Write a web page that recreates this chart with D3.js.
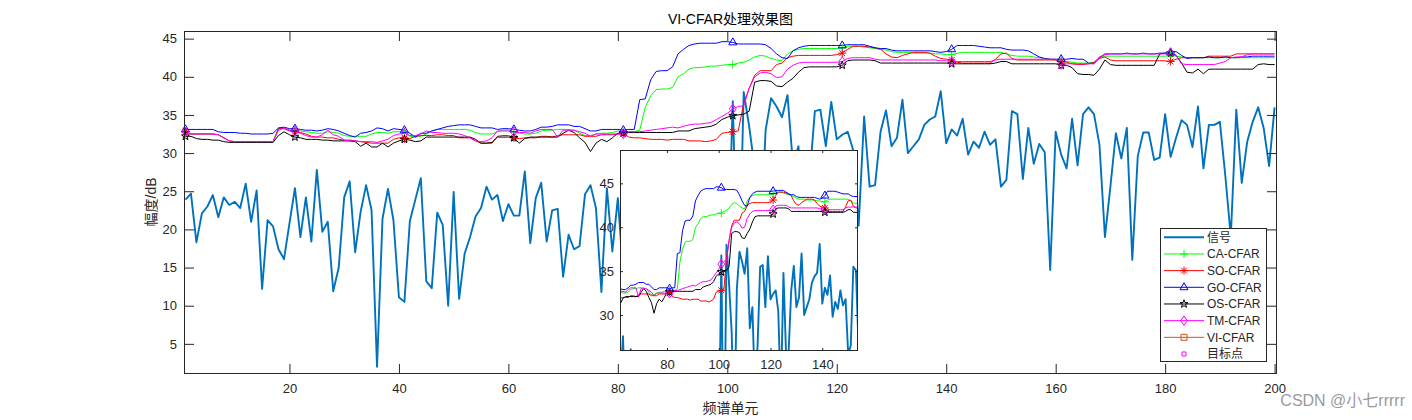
<!DOCTYPE html>
<html><head><meta charset="utf-8">
<script src="https://cdn.jsdelivr.net/npm/d3@7"></script>
<style>
body{margin:0;background:#fff;}
text{font-family:"Liberation Sans",Arial,"Noto Sans CJK SC",sans-serif;}
</style>
</head><body>
<svg id="c" width="1412" height="420"></svg>
<script>
// ---------------- data ----------------
const signal = [
23.9,24.7,18.3,22.1,23.0,24.5,21.6,24.2,23.2,23.6,
22.8,26.0,21.0,25.1,12.2,21.2,20.4,17.4,16.1,20.8,
25.4,19.0,24.2,18.4,27.8,19.7,21.0,11.9,15.0,24.2,
26.3,17.0,22.3,25.8,22.5,2.0,21.4,25.3,21.2,11.1,
10.5,21.1,23.9,26.7,13.2,12.3,22.2,20.6,10.0,24.9,
10.9,16.8,19.0,21.7,22.8,25.6,23.9,24.5,21.1,23.3,
21.8,21.8,27.6,18.2,24.1,26.1,18.4,22.5,22.7,13.8,
19.3,17.4,17.8,24.6,25.8,22.8,11.8,25.4,17.1,24.1,
14.0,22.0,18.0,11.0,20.0,24.0,16.0,21.0,9.0,19.0,
23.0,15.0,20.0,25.0,13.0,18.0,22.0,17.0,21.0,13.0,
36.8,9.0,38.0,33.5,28.0,17.0,33.0,37.2,36.1,34.7,
37.6,28.5,30.9,21.0,26.5,35.5,35.7,30.9,36.7,31.8,
32.4,32.8,30.4,20.5,34.8,25.6,25.8,32.8,35.6,30.9,
32.0,37.0,30.0,30.9,31.8,33.7,34.4,34.8,38.1,31.3,
33.1,32.3,34.5,29.8,31.5,30.7,32.8,31.1,31.8,25.6,
26.5,35.5,35.1,26.6,33.3,28.6,31.2,30.1,14.7,32.8,
29.8,28.0,34.5,28.4,35.1,36.0,35.1,31.1,19.0,25.6,
32.6,29.3,33.3,16.0,29.6,32.7,32.7,29.1,29.4,35.1,
29.5,32.0,34.3,33.7,30.8,36.1,28.0,33.7,33.7,34.1,
27.0,19.0,35.7,26.1,31.5,34.1,36.0,33.3,28.3,36.0];

const caCFAR = [
32.8,32.5,32.5,32.5,32.5,32.5,32.4,32.0,31.6,31.5,
31.5,31.5,31.5,31.5,31.5,31.5,31.5,33.3,33.3,33.0,
33.0,32.9,32.8,32.7,32.6,32.6,32.8,32.7,32.6,32.3,
32.2,32.2,32.2,32.2,32.5,32.7,32.7,32.6,32.8,32.8,
32.8,32.2,32.1,32.2,32.5,32.9,33.1,33.1,33.1,33.1,
33.1,33.1,33.0,32.7,32.5,32.5,32.5,32.8,33.0,33.0,
32.8,32.6,32.5,32.5,32.6,32.9,33.0,33.0,33.1,33.1,
33.1,33.0,32.6,32.3,32.3,32.5,32.6,32.6,32.7,32.9,
32.8,32.8,32.8,33.0,36.0,37.5,38.3,38.4,38.4,38.6,
40.0,40.4,41.0,41.2,41.2,41.3,41.4,41.4,41.5,41.6,
41.6,41.8,41.9,42.2,42.6,42.8,42.7,42.4,42.2,42.1,
43.0,43.4,43.6,43.7,43.7,43.7,43.7,43.7,43.7,43.7,
43.8,44.0,44.0,44.0,43.9,43.8,43.7,43.6,43.5,43.3,
43.2,43.2,43.2,43.1,43.1,43.1,43.1,43.0,43.0,42.9,
42.9,43.1,43.2,43.2,43.2,43.2,43.2,43.2,43.2,43.2,
43.0,42.8,42.7,42.7,42.7,42.6,42.5,42.4,42.3,42.2,
42.1,42.0,41.9,41.8,41.8,41.8,41.9,42.6,42.7,42.7,
42.7,42.7,42.7,42.7,42.7,42.7,42.7,42.7,42.7,42.7,
42.8,42.7,42.6,42.5,42.5,42.5,42.5,42.5,42.5,42.5,
42.5,42.5,42.5,42.5,42.5,42.5,42.5,42.5,42.5,42.5];

const soCFAR = [
32.8,32.5,32.5,32.5,32.5,32.5,32.4,32.0,31.6,31.5,
31.5,31.5,31.5,31.5,31.5,31.5,31.5,33.2,33.2,32.9,
32.8,32.7,32.5,32.2,32.1,32.1,32.0,32.0,31.8,31.7,
31.7,31.6,31.5,31.4,31.3,31.3,31.3,31.3,31.8,32.0,
31.9,31.9,32.2,32.3,32.3,32.3,32.4,32.4,32.3,32.3,
32.0,32.0,32.0,31.6,31.3,31.3,31.3,32.2,32.3,32.3,
32.0,31.9,32.0,32.0,32.0,32.2,32.2,32.1,32.3,32.4,
32.4,32.4,32.4,32.2,32.2,32.2,32.4,32.4,32.4,32.5,
32.6,32.1,32.0,32.0,31.9,31.8,31.8,31.8,31.7,31.8,
31.8,31.8,31.6,31.6,31.6,31.5,31.6,31.8,32.6,32.7,
32.8,32.9,36.5,38.5,40.2,40.8,40.8,40.8,41.6,41.8,
42.5,42.7,42.8,42.8,42.8,42.8,42.8,42.8,42.8,42.9,
43.1,43.6,44.0,44.0,44.0,43.9,43.8,43.6,43.0,42.6,
42.5,42.8,43.0,43.2,43.2,43.2,43.1,42.7,42.4,42.3,
42.2,41.9,41.8,41.8,41.8,41.8,41.8,41.8,42.3,43.0,
43.1,42.4,42.2,42.2,42.2,42.2,42.2,42.2,42.2,42.2,
42.0,41.9,41.7,41.6,41.6,41.7,41.9,42.4,42.6,42.2,
42.1,42.1,42.1,42.1,42.1,42.1,42.1,42.1,42.1,42.1,
42.0,42.3,42.5,42.5,42.5,42.5,42.5,42.7,42.7,42.7,
42.7,42.7,43.0,43.0,43.0,43.0,43.0,43.0,43.0,43.0];

const goCFAR = [
33.1,33.1,33.1,33.1,33.1,33.1,32.8,32.7,32.7,32.7,
32.6,32.6,32.5,32.5,32.5,32.5,32.6,33.3,33.4,33.2,
33.2,33.1,33.0,33.0,32.9,33.0,33.2,33.1,32.9,32.6,
32.3,32.1,32.6,32.7,32.9,33.3,33.2,32.9,33.2,33.1,
33.0,32.6,32.1,32.6,32.6,32.9,33.1,33.3,33.5,33.6,
33.7,33.7,33.7,33.5,33.3,33.3,33.3,33.1,33.2,33.2,
33.1,33.0,32.9,32.9,33.1,33.4,33.4,33.5,33.7,33.7,
33.7,33.5,33.5,33.2,32.9,32.9,33.1,33.1,33.1,33.1,
33.0,33.1,33.1,37.0,37.1,39.6,40.7,40.8,40.8,41.3,
43.0,43.6,44.1,44.3,44.4,44.4,44.4,44.4,44.6,44.6,
44.5,44.3,44.3,44.3,44.3,44.3,44.2,43.7,43.0,42.5,
42.4,43.4,43.8,44.0,44.1,44.1,44.1,44.1,44.1,44.1,
44.1,44.2,44.2,44.2,44.2,44.0,43.8,43.7,43.7,43.5,
43.4,43.4,43.4,43.4,43.4,43.4,43.4,43.3,43.2,43.3,
43.6,44.1,44.1,44.1,44.1,44.0,43.9,43.8,43.8,43.8,
43.6,43.5,43.5,43.5,43.4,43.0,42.6,42.4,42.3,42.3,
42.3,42.3,42.4,42.3,42.3,41.8,41.7,42.5,43.0,43.0,
43.0,43.0,43.1,43.0,43.0,43.1,43.0,43.0,43.1,43.1,
43.2,43.3,42.8,42.4,42.5,42.5,42.5,42.6,42.5,42.5,
42.6,42.5,42.5,42.6,42.6,42.7,42.7,42.7,42.7,42.7];

const osCFAR = [
32.2,32.2,31.9,31.8,31.8,31.7,31.7,31.5,31.4,31.4,
31.4,31.4,31.4,31.4,31.4,31.4,31.4,32.3,32.8,32.4,
32.1,32.0,31.8,31.8,31.8,31.7,31.7,31.6,31.6,31.6,
31.6,31.5,30.9,31.3,30.8,30.8,31.3,30.8,31.3,31.6,
31.8,31.7,31.5,31.6,32.1,32.1,32.1,32.1,32.1,32.1,
32.1,32.1,32.1,31.8,31.3,31.3,31.4,32.1,32.1,32.1,
32.0,31.3,31.9,32.1,32.1,32.1,32.1,32.1,32.1,32.6,
33.0,32.7,32.0,31.4,30.2,31.3,31.8,31.5,32.0,32.6,
32.6,32.7,32.7,32.7,32.7,32.7,32.7,32.7,32.7,32.7,
32.9,32.9,32.9,33.2,33.3,33.4,33.5,33.8,34.4,34.7,
34.9,35.0,35.1,35.5,39.3,39.5,39.5,39.4,38.8,38.7,
39.3,39.8,40.6,41.2,41.3,41.3,41.3,41.3,41.3,41.3,
41.5,42.1,42.2,42.2,42.2,42.2,42.1,41.8,41.8,41.8,
41.8,41.8,41.8,41.8,41.8,41.8,41.8,41.8,41.8,41.8,
41.7,41.7,41.7,41.7,41.7,41.7,41.7,41.7,41.8,42.0,
42.0,41.7,41.7,41.7,41.7,41.7,41.7,41.7,41.7,41.7,
41.5,41.5,41.2,40.4,40.3,40.3,40.2,41.0,42.2,41.6,
41.5,41.5,41.5,41.5,41.5,41.5,41.5,41.5,43.0,43.1,
43.1,42.8,41.8,40.6,40.5,41.0,40.4,41.0,41.0,41.0,
41.0,41.0,41.0,41.0,41.0,41.0,41.6,41.7,41.6,41.6];

const tmCFAR = [
32.8,32.5,32.5,32.5,32.5,32.5,32.4,32.0,31.6,31.5,
31.5,31.5,31.5,31.5,31.5,31.5,31.5,33.0,33.3,33.0,
32.9,32.6,32.3,32.1,32.1,32.4,33.0,32.4,32.2,31.7,
31.6,31.6,31.5,31.5,31.5,31.4,31.6,31.8,32.3,32.5,
32.6,32.3,32.3,32.5,32.9,32.7,32.7,32.6,32.6,32.6,
32.5,32.3,32.0,31.6,31.5,31.6,32.0,32.9,32.9,32.9,
32.8,32.7,32.7,32.6,32.9,33.1,33.1,33.1,32.1,33.0,
33.0,33.0,32.8,32.6,32.2,32.5,32.5,32.5,32.5,32.5,
32.5,32.8,32.8,32.8,32.9,33.0,33.1,33.2,33.3,33.4,
33.3,33.5,33.7,33.8,33.8,33.9,34.0,34.4,34.8,35.2,
35.8,36.1,36.2,38.5,40.0,40.5,40.6,40.4,39.9,40.0,
41.0,41.5,41.8,41.9,41.9,41.9,41.9,41.9,41.9,41.9,
42.0,42.4,42.5,42.5,42.5,42.5,42.3,42.2,42.2,42.2,
42.2,42.2,42.2,42.2,42.2,42.2,42.2,42.2,42.1,42.1,
42.0,42.0,42.0,42.0,42.0,42.0,42.0,42.0,42.2,42.3,
42.3,42.3,42.3,42.3,42.3,42.3,42.3,42.3,42.3,42.3,
41.6,41.7,41.7,41.7,41.7,41.7,41.7,42.6,42.9,43.0,
43.0,43.0,43.0,43.0,43.0,43.0,43.0,43.0,43.0,43.0,
43.1,42.8,41.7,41.6,41.6,41.6,41.6,41.6,41.6,41.8,
42.0,42.5,42.6,42.6,42.9,43.0,43.0,43.0,43.0,43.0];

const viCFAR = [];      // not visible in the reference
const targetPoints = []; // not visible in the reference

const markerIdx = [1,21,41,61,81,101,121,141,161,181];
const xTicks = [20,40,60,80,100,120,140,160,180,200];
const yTicks = [5,10,15,20,25,30,35,40,45];
const insetXTicks = [80,100,120,140];
const insetYTicks = [30,35,40,45];
const legendLabels = ["信号","CA-CFAR","SO-CFAR","GO-CFAR","OS-CFAR","TM-CFAR","VI-CFAR","目标点"];
const titleText = "VI-CFAR处理效果图";
const xLabel = "频谱单元";
const yLabel = "幅度/dB";
const watermark = "CSDN @小七rrrrr";

// ---------------- styles ----------------
const AX = "#262626";
const series = [
  {name:"CA-CFAR", data:caCFAR, color:"#00ff00", marker:"plus"},
  {name:"SO-CFAR", data:soCFAR, color:"#ff0000", marker:"star"},
  {name:"GO-CFAR", data:goCFAR, color:"#0000ff", marker:"tri"},
  {name:"OS-CFAR", data:osCFAR, color:"#000000", marker:"penta"},
  {name:"TM-CFAR", data:tmCFAR, color:"#ff00ff", marker:"diam"},
  {name:"VI-CFAR", data:viCFAR, color:"#d95319", marker:"sq"}
];

function markerPath(t){
  if(t==="plus") return "M-4,0H4M0,-4V4";
  if(t==="star") return "M-4,0H4M0,-4V4M-2.9,-2.9L2.9,2.9M-2.9,2.9L2.9,-2.9";
  if(t==="tri") return "M0,-4.6L4,2.4L-4,2.4Z";
  if(t==="diam") return "M0,-4.7L3.4,0L0,4.7L-3.4,0Z";
  if(t==="sq") return "M-3,-3H3V3H-3Z";
  if(t==="tsq") return "M-2,-2H2V2H-2Z";
  if(t==="penta"){
    let p=[];
    for(let k=0;k<10;k++){
      const r = k%2===0 ? 4.2 : 1.7;
      const a = -Math.PI/2 + k*Math.PI/5;
      p.push([r*Math.cos(a), r*Math.sin(a)]);
    }
    return "M"+p.map(d=>d[0].toFixed(2)+","+d[1].toFixed(2)).join("L")+"Z";
  }
  return "";
}

const svg = d3.select("#c");
svg.append("rect").attr("width",1412).attr("height",420).attr("fill","#fff");
const defs = svg.append("defs");

function panel(opts){
  const {x0,x1,y0,y1,xd,yd,id,xt,yt,tick,xpad,ypad} = opts;
  const x = d3.scaleLinear().domain(xd).range([x0,x1]);
  const y = d3.scaleLinear().domain(yd).range([y1,y0]);
  defs.append("clipPath").attr("id",id).append("rect")
    .attr("x",x0).attr("y",y0).attr("width",x1-x0).attr("height",y1-y0);
  const g = svg.append("g");
  g.append("rect").attr("x",x0).attr("y",y0).attr("width",x1-x0).attr("height",y1-y0).attr("fill","#fff");
  const plot = g.append("g").attr("clip-path",`url(#${id})`);
  const line = d3.line().x((d,i)=>x(i+1)).y(d=>y(d));
  plot.append("path").datum(signal).attr("d",line)
    .attr("fill","none").attr("stroke","#0072bd").attr("stroke-width",1.9).attr("stroke-linejoin","round");
  const mk = g.append("g");
  series.forEach(s=>{
    if(!s.data.length) return;
    plot.append("path").datum(s.data).attr("d",line)
      .attr("fill","none").attr("stroke",s.color).attr("stroke-width",1);
    markerIdx.forEach(i=>{
      if(i < xd[0] || i > xd[1]) return;
      mk.append("path").attr("d",markerPath(s.marker))
        .attr("transform",`translate(${x(i)},${y(s.data[i-1])})`)
        .attr("fill","none").attr("stroke",s.color).attr("stroke-width",1);
    });
  });
  // axes
  const fs = "13px";
  const bx = g.append("g").attr("transform",`translate(0,${y1})`)
    .call(d3.axisBottom(x).tickValues(xt).tickSize(-tick).tickPadding(xpad).tickFormat(d3.format("d")));
  const tx = g.append("g").attr("transform",`translate(0,${y0})`)
    .call(d3.axisTop(x).tickValues(xt).tickSize(-tick).tickFormat(""));
  const ly = g.append("g").attr("transform",`translate(${x0},0)`)
    .call(d3.axisLeft(y).tickValues(yt).tickSize(-tick).tickPadding(ypad).tickFormat(d3.format("d")));
  const ry = g.append("g").attr("transform",`translate(${x1},0)`)
    .call(d3.axisRight(y).tickValues(yt).tickSize(-tick).tickFormat(""));
  [bx,tx,ly,ry].forEach(a=>{
    a.select(".domain").remove();
    a.selectAll("line").attr("stroke",AX).attr("stroke-width",1);
    a.selectAll("text").attr("fill",AX).style("font-size",fs).style("font-family",'"Liberation Sans",Arial,sans-serif');
  });
  g.append("rect").attr("x",x0+0.5).attr("y",y0+0.5).attr("width",x1-x0-1).attr("height",y1-y0-1)
    .attr("fill","none").attr("stroke",AX).attr("stroke-width",1);
  return {x,y,g};
}

// main axes
const main = panel({x0:184,x1:1277,y0:31,y1:374,xd:[0.73,200.44],yd:[1.05,46.0],id:"cm",
  xt:xTicks,yt:yTicks,tick:10,xpad:10,ypad:7});

// inset axes
panel({x0:620,x1:858,y0:150,y1:351,xd:[61.85,153.8],yd:[25.9,48.8],id:"ci",
  xt:insetXTicks,yt:insetYTicks,tick:3,xpad:9,ypad:6});

// title & labels
svg.append("text").attr("x",730.5).attr("y",24).attr("text-anchor","middle")
  .attr("fill","#000").style("font-size","14px").text(titleText);
svg.append("text").attr("x",730.5).attr("y",413).attr("text-anchor","middle")
  .attr("fill",AX).style("font-size","14px").text(xLabel);
svg.append("text").attr("transform","translate(156,202) rotate(-90)").attr("text-anchor","middle")
  .attr("fill",AX).style("font-size","14px").text(yLabel);

// legend
const lg = svg.append("g");
lg.append("rect").attr("x",1160.5).attr("y",228.5).attr("width",106).attr("height",133)
  .attr("fill","#fff").attr("stroke",AX).attr("stroke-width",1);
const legendItems = [{color:"#0072bd", marker:null, w:1.9}]
  .concat(series.map(s=>({color:s.color, marker:s.marker, w:1})))
  .concat([{color:"#ff00ff", marker:"tsq", w:0, noLine:true}]);
legendItems.forEach((it,k)=>{
  const cy = 237.3 + k*16.67;
  if(!it.noLine) lg.append("line").attr("x1",1164).attr("x2",1204).attr("y1",cy).attr("y2",cy)
    .attr("stroke",it.color).attr("stroke-width",it.w);
  if(it.marker) lg.append("path").attr("d",markerPath(it.marker))
    .attr("transform",`translate(1184,${cy})`).attr("fill","none").attr("stroke",it.color).attr("stroke-width",1);
  lg.append("text").attr("x",1207).attr("y",cy+4.3).attr("fill",AX).style("font-size","12px").text(legendLabels[k]);
});

// watermark
svg.append("text").attr("x",1405).attr("y",406).attr("text-anchor","end")
  .attr("fill","#9a9a9a").style("font-size","16px").text(watermark);
</script>
</body></html>
